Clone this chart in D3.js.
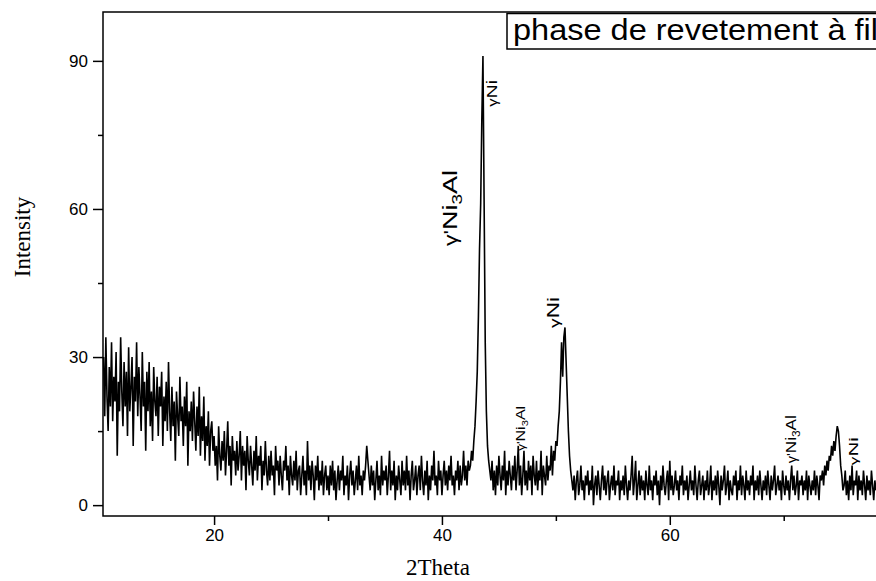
<!DOCTYPE html>
<html>
<head>
<meta charset="utf-8">
<script src="https://cdn.jsdelivr.net/npm/d3@7"></script>
<style>
  body { margin: 0; background: #fff; }
  text { fill: #000; }
</style>
</head>
<body>
<svg id="chart" width="876" height="581"></svg>
<script>
// 2Theta start and step of the scan
var thetaStart = 10.3;
var thetaStep = 0.1;

// 10.3 - 19.9
var seg1 = [30, 18, 34, 22, 15, 28, 20, 33, 17, 26,
  21, 31, 10, 25, 19, 34, 23, 16, 29, 20,
  27, 14, 32, 19, 24, 30, 12, 26, 21, 33,
  18, 28, 22, 15, 31, 20, 25, 11, 27, 19,
  29, 16, 23, 13, 28, 21, 18, 26, 14, 24,
  20, 27, 12, 22, 17, 25, 15, 29, 19, 13,
  24, 16, 21, 9, 23, 18, 14, 26, 17, 20,
  12, 22, 16, 25, 8, 19, 15, 21, 13, 23,
  17, 11, 20, 14, 24, 10, 18, 13, 22, 9,
  16, 12, 19, 8, 15, 17, 11];
// 20.0 - 29.9
var seg2 = [14, 8, 12, 5, 16, 10, 7, 13, 9, 15,
  6, 11, 17, 8, 12, 4, 14, 9, 11, 6,
  13, 7, 10, 15, 5, 12, 8, 11, 3, 14,
  9, 6, 12, 8, 4, 11, 7, 14, 5, 10,
  8, 12, 3, 9, 6, 13, 7, 4, 10, 5,
  11, 6, 8, 2, 12, 7, 9, 4, 10, 6,
  3, 9, 7, 12, 5, 8, 2, 10, 6, 4,
  9, 5, 11, 3, 7, 8, 2, 6, 10, 4,
  7, 2, 13, 5, 8, 3, 9, 6, 1, 8,
  5, 10, 3, 7, 4, 9, 2, 6, 8, 3];
// 30.0 - 42.4
var seg3 = [6, 2, 8, 4, 9, 3, 7, 1, 5, 8,
  3, 7, 5, 10, 2, 6, 4, 8, 1, 6,
  9, 4, 7, 2, 5, 8, 3, 10, 4, 6,
  2, 7, 5, 8, 12, 9, 6, 3, 8, 4,
  7, 1, 5, 9, 3, 6, 2, 10, 4, 7,
  5, 8, 2, 6, 11, 3, 7, 4, 9, 1,
  6, 3, 8, 5, 2, 9, 4, 7, 3, 10,
  4, 7, 1, 6, 9, 3, 5, 8, 2, 6,
  8, 3, 10, 5, 2, 7, 4, 9, 1, 6,
  3, 8, 5, 11, 4, 6, 2, 9, 5, 7,
  2, 6, 9, 4, 7, 3, 8, 5, 10, 4,
  6, 2, 7, 5, 9, 3, 8, 4, 6, 11,
  5, 8, 4, 9, 7];
// 42.5 - 44.2 (main peak)
var peak1 = [8, 11, 9, 13, 16, 21, 27, 38, 52, 61, 78, 91, 62, 33, 19, 12, 9, 7];
// 44.3 - 49.4
var seg4 = [5, 9, 3, 7, 2, 8, 4, 10, 6, 3,
  8, 5, 11, 2, 7, 4, 9, 6, 3, 8,
  5, 10, 3, 7, 12, 4, 8, 2, 6, 11,
  4, 7, 3, 9, 5, 8, 2, 10, 6, 4,
  9, 3, 7, 5, 11, 2, 8, 6, 4, 10,
  5, 8];
// 49.5 - 51.4
var peak2 = [7, 12, 6, 11, 9, 13, 12, 16, 19, 25, 33, 26, 34, 36, 29, 22, 15, 10, 7, 5];
// 51.5 - 73.2
var seg5 = [3, 6, 1, 5, 7, 2, 4, 8, 3, 5,
  1, 6, 4, 7, 2, 5, 3, 8, 0, 4,
  6, 2, 7, 4, 1, 5, 8, 3, 6, 2,
  5, 7, 1, 4, 6, 3, 8, 2, 5, 4,
  7, 1, 5, 3, 6, 2, 8, 4, 1, 5,
  3, 6, 10, 2, 5, 9, 1, 4, 7, 2,
  6, 3, 5, 1, 7, 4, 2, 8, 3, 5,
  1, 6, 4, 7, 2, 5, 0, 6, 3, 8,
  4, 2, 5, 7, 1, 9, 3, 6, 2, 4,
  7, 3, 5, 1, 6, 4, 8, 2, 5, 3,
  6, 1, 4, 7, 3, 5, 2, 8, 4, 1,
  5, 7, 2, 4, 6, 1, 5, 3, 7, 2,
  4, 8, 1, 5, 3, 6, 2, 7, 4, 0,
  6, 3, 5, 8, 2, 4, 7, 1, 5, 3,
  2, 6, 4, 7, 1, 5, 3, 8, 2, 6,
  4, 1, 7, 3, 5, 2, 6, 4, 8, 1,
  5, 3, 6, 2, 7, 4, 1, 5, 3, 6,
  2, 7, 4, 1, 6, 3, 5, 8, 2, 4,
  6, 3, 5, 1, 7, 4, 2, 6, 3, 5,
  1, 5, 8, 3, 6, 2, 4, 7, 1, 5,
  4, 6, 2, 5, 3, 7, 1, 6, 4, 2,
  5, 3, 7, 2, 6, 4, 1, 6];
// 73.3 - 75.2
var peak3 = [5, 7, 4, 8, 6, 9, 7, 10, 9, 12, 10, 13, 11, 14, 16, 15, 12, 8, 6, 3];
// 75.3 - 78.1
var seg6 = [4, 7, 2, 5, 1, 6, 3, 8, 2, 5, 4, 7, 1, 6, 3, 5, 2, 7, 4, 1, 6, 3, 5, 2, 7, 4, 1, 5, 3];

var xTicks = [20, 40, 60];
var xMinor = [30, 50, 70];
var yTicks = [0, 30, 60, 90];
var yMinor = [15, 45, 75];

// phase labels: [2Theta, intensity] at the foot of each label
var phaseLabels = [
  { sub: true, at: [41.3, 52.5], fs: 21, len: 76 },
  { sub: false, at: [44.8, 80.7], fs: 14, len: 27 },
  { sub: true, at: [47.3, 11], fs: 12, len: 45 },
  { sub: false, at: [50.3, 35.9], fs: 16, len: 31 },
  { sub: true, at: [71.1, 8.5], fs: 15, len: 48 },
  { sub: false, at: [76.5, 8.1], fs: 12, len: 28 }
];

var intensity = [].concat(seg1, seg2, seg3, peak1, seg4, peak2, seg5, peak3, seg6);
var data = intensity.map(function (v, i) {
  return { t: thetaStart + i * thetaStep, v: v };
});

var svg = d3.select("#chart");
var plotL = 103, plotR = 876, plotT = 12, plotB = 516;

var x = d3.scaleLinear().domain([10.25, 78.1]).range([plotL, plotR]);
var y = d3.scaleLinear().domain([-2.2, 99.9]).range([plotB, plotT]);

// frame (right side runs off the picture)
svg.append("rect")
  .attr("x", plotL).attr("y", plotT)
  .attr("width", 900 - plotL).attr("height", plotB - plotT)
  .attr("fill", "none").attr("stroke", "#000").attr("stroke-width", 1.5);

var line = d3.line()
  .x(function (d) { return x(d.t); })
  .y(function (d) { return y(d.v); });

svg.append("path")
  .datum(data)
  .attr("d", line)
  .attr("fill", "none")
  .attr("stroke", "#000")
  .attr("stroke-width", 1.6)
  .attr("stroke-linejoin", "miter");

// axes
svg.append("g")
  .attr("transform", "translate(0," + plotB + ")")
  .call(d3.axisBottom(x).tickValues(xTicks).tickSize(9).tickPadding(4).tickFormat(d3.format("d")));
svg.append("g")
  .attr("transform", "translate(0," + plotB + ")")
  .call(d3.axisBottom(x).tickValues(xMinor).tickSize(5).tickFormat(""));
svg.append("g")
  .attr("transform", "translate(" + plotL + ",0)")
  .call(d3.axisLeft(y).tickValues(yTicks).tickSize(10).tickPadding(5).tickFormat(d3.format("d")));
svg.append("g")
  .attr("transform", "translate(" + plotL + ",0)")
  .call(d3.axisLeft(y).tickValues(yMinor).tickSize(5).tickFormat(""));

svg.selectAll(".domain").remove();
svg.selectAll(".tick line").attr("stroke", "#000").attr("stroke-width", 1.5);
svg.selectAll(".tick text")
  .attr("font-family", "Liberation Sans, Arial, sans-serif")
  .attr("font-size", "17px")
  .attr("fill", "#000");

// axis titles
svg.append("text")
  .attr("x", 438).attr("y", 575)
  .attr("text-anchor", "middle")
  .attr("font-family", "Liberation Serif, Times New Roman, serif")
  .attr("font-size", "23px")
  .text("2Theta");

svg.append("text")
  .attr("transform", "translate(30,237) rotate(-90)")
  .attr("text-anchor", "middle")
  .attr("font-family", "Liberation Serif, Times New Roman, serif")
  .attr("font-size", "23px")
  .text("Intensity");

// title box
svg.append("rect")
  .attr("x", 507).attr("y", 13.5)
  .attr("width", 400).attr("height", 35.5)
  .attr("fill", "#fff").attr("stroke", "#000").attr("stroke-width", 1.5);
svg.append("text")
  .attr("x", 513).attr("y", 40)
  .attr("font-family", "Liberation Sans, Arial, sans-serif")
  .attr("font-size", "29px")
  .attr("textLength", 365)
  .attr("lengthAdjust", "spacingAndGlyphs")
  .text("phase de revetement à fil");

// phase labels, rotated
phaseLabels.forEach(function (p) {
  var t = svg.append("text")
    .attr("transform", "translate(" + x(p.at[0]) + "," + y(p.at[1]) + ") rotate(-90)")
    .attr("font-family", "Liberation Sans, Arial, sans-serif")
    .attr("font-size", p.fs + "px")
    .attr("textLength", p.len)
    .attr("lengthAdjust", "spacingAndGlyphs");
  if (p.sub) {
    t.append("tspan").attr("font-size", (p.fs * 0.85) + "px").text("\u03b3'");
    t.append("tspan").text("Ni");
    t.append("tspan").attr("font-size", (p.fs * 0.7) + "px").attr("dy", p.fs * 0.25).text("3");
    t.append("tspan").attr("dy", -p.fs * 0.25).text("Al");
  } else {
    t.append("tspan").attr("font-size", (p.fs * 0.85) + "px").text("\u03b3");
    t.append("tspan").text("Ni");
  }
});
</script>
</body>
</html>
